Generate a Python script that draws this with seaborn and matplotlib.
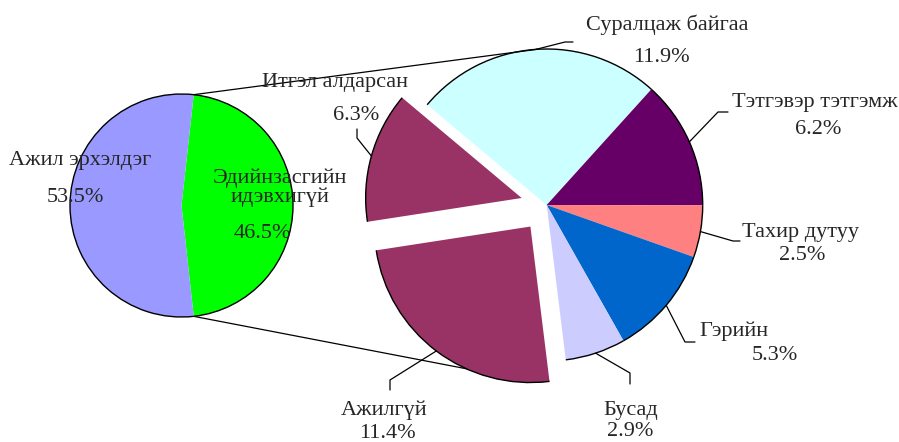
import numpy as np
import matplotlib
matplotlib.use("Agg")
import matplotlib.pyplot as plt
from matplotlib.patches import Arc
import seaborn as sns

sns.set_theme(style="white")
plt.rcParams['font.family'] = ['Liberation Serif', 'DejaVu Serif']

# Data
left_labels = ["Эдийнзасгийн\nидэвхигүй", "Ажил эрхэлдэг"]
left_values = [46.5, 53.5]
left_colors = ["#00FF00", "#9999FF"]

right_labels = ["Суралцаж байгаа", "Тэтгэвэр тэтгэмж", "Тахир дутуу", "Гэрийн",
                "Бусад", "Ажилгүй", "Итгэл алдарсан"]
right_values = [11.9, 6.2, 2.5, 5.3, 2.9, 11.4, 6.3]
right_colors = ["#CCFFFF", "#660066", "#FF8080", "#0066CC", "#CCCCFF", "#993366", "#993366"]

H = 442


def py(y):
    # pixel row -> data y
    return H - y


# Layout (pixel coordinates of the reference image)
left_center = (181.5, py(205.5))
left_r = 111.5
right_center = (546.7, py(205))
right_r = 156
# pie explode is in data units here (pixels)
right_explode = [0, 0, 0, 0, 0, 27, 26]

# label positions: (name x, name y, pct x, pct y)
left_text = [(280, 188, 262, 233), (80, 160, 75, 198)]
right_text = [(667, 25, 661, 57), (815, 102, 818, 129), (801, 232, 802, 256),
              (734, 331, 775, 355), (631, 410, 630, 432), (384, 410, 387, 433),
              (335, 83, 356, 115)]
# leader elbow and end points
leaders = [((565, 42), (573, 42)), ((718, 112), (728, 112)), ((733, 241), (740, 241)),
           ((685, 342), (695, 342)), ((630, 373), (630, 384)), ((390, 380), (390, 390)),
           ((357, 138), (357, 129))]

fig = plt.figure(figsize=(8.99, 4.42), dpi=100)
ax = fig.add_axes([0, 0, 1, 1])

lw, _ = ax.pie(left_values, colors=left_colors, startangle=83.7, counterclock=False,
               radius=left_r, center=left_center, wedgeprops=dict(linewidth=0))
rw, _ = ax.pie(right_values, colors=right_colors, startangle=140, counterclock=False,
               radius=right_r, center=right_center, explode=right_explode,
               wedgeprops=dict(linewidth=0))

# outer outlines only
for w in lw + rw:
    ax.add_patch(Arc(w.center, 2 * w.r, 2 * w.r, theta1=w.theta1, theta2=w.theta2,
                     color="black", lw=1.0, zorder=3))

# connection lines between the two pies
top_l = lw[0].theta2
bot_l = lw[0].theta1
p_top = (left_center[0] + left_r * np.cos(np.radians(top_l)),
         left_center[1] + left_r * np.sin(np.radians(top_l)))
p_bot = (left_center[0] + left_r * np.cos(np.radians(bot_l)),
         left_center[1] + left_r * np.sin(np.radians(bot_l)))
q_top = (right_center[0] + right_r * np.cos(np.radians(93.5)),
         right_center[1] + right_r * np.sin(np.radians(93.5)))
ax.plot([p_top[0], q_top[0]], [p_top[1], q_top[1]], color="black", lw=0.9, zorder=4)
ax.plot([p_bot[0], 530], [p_bot[1], py(381)], color="black", lw=0.9, zorder=0.5)

# leader lines from wedge middles
for w, (elb, end) in zip(rw, leaders):
    mid = np.radians((w.theta1 + w.theta2) / 2)
    sx = w.center[0] + w.r * np.cos(mid)
    sy = w.center[1] + w.r * np.sin(mid)
    ax.plot([sx, elb[0], end[0]], [sy, py(elb[1]), py(end[1])], color="black",
            lw=0.9, zorder=4)

fs = 16
for lab, val, (nx, ny, vx, vy) in zip(right_labels, right_values, right_text):
    ax.text(nx, py(ny), lab, ha="center", va="center", fontsize=fs, zorder=5)
    ax.text(vx, py(vy), f"{val}%", ha="center", va="center", fontsize=fs, zorder=5)
for lab, val, (nx, ny, vx, vy) in zip(left_labels, left_values, left_text):
    ax.text(nx, py(ny), lab, ha="center", va="center", fontsize=fs, zorder=5,
            linespacing=0.95)
    ax.text(vx, py(vy), f"{val}%", ha="center", va="center", fontsize=fs, zorder=5)

ax.set_xlim(0, 899)
ax.set_ylim(0, H)
ax.set_aspect("auto")
ax.axis("off")

fig.savefig("out.png", dpi=100, facecolor="white")
